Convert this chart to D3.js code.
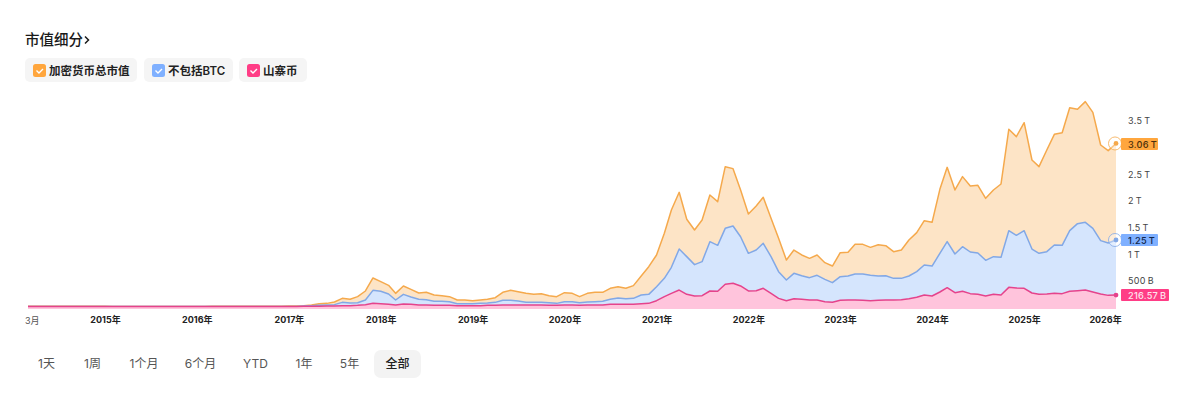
<!DOCTYPE html>
<html><head><meta charset="utf-8">
<script src="https://cdnjs.cloudflare.com/ajax/libs/d3/7.8.5/d3.min.js"></script>
<style>
html,body{margin:0;padding:0;background:#fff}
svg{display:block}
text{font-family:Inter,"Noto Sans CJK SC",sans-serif}
</style></head><body>
<svg id="c" width="1200" height="401"></svg>
<script>
// values in billions of USD, monthly from 2014-03 to 2026-01
const totalCap=[10,9,9,8,8,9,8,7,7,6,6,5,4,4,4,4,4,5,4,4,4,4,4,5,6,7,7,7,7,7,8,8,9,10,12,14,19,31,56,62,88,156,138,188,294,538,469,400,250,388,325,256,269,219,206,188,125,125,112,125,138,169,269,306,281,250,231,244,206,188,262,250,188,250,269,269,344,375,344,395,575,750,969,1375,1812,2144,1638,1438,1625,2094,1969,2625,2588,2188,1738,1888,2050,1656,1281,875,1062,969,906,969,825,762,1012,1019,1169,1169,1112,1162,1144,1031,1062,1250,1388,1612,1581,2200,2612,2188,2438,2262,2275,2031,2188,2300,3325,3188,3450,2750,2625,2938,3231,3262,3731,3700,3844,3644,3031,2925,3060];
const exBtc=[3,3,3,2,2,2,2,2,2,1,1,1,1,1,1,1,1,1,1,1,1,1,1,2,2,2,2,2,2,2,2,2,2,2,3,4,12,19,25,31,38,81,69,75,125,306,288,238,125,231,181,138,131,100,100,94,56,56,56,62,69,81,119,119,106,81,81,81,75,62,94,94,75,88,94,100,138,162,150,156,219,231,375,531,738,1081,938,788,844,1219,1150,1469,1512,1312,1000,1062,1188,938,656,500,625,581,544,588,512,450,562,575,612,612,588,575,581,531,531,575,656,781,762,1000,1219,988,1125,1025,1006,869,938,925,1425,1338,1425,1081,1000,1031,1156,1150,1425,1556,1581,1469,1238,1194,1250];
const altcoins=[2,2,2,1,1,1,1,1,1,1,1,1,1,1,1,1,1,1,1,1,1,1,1,1,1,1,1,1,1,1,1,1,1,2,2,3,6,6,9,12,12,19,19,25,38,62,56,44,31,50,44,31,31,25,25,25,19,19,19,19,25,25,31,31,31,31,31,31,25,25,31,31,25,31,31,31,44,44,44,47,56,62,112,188,250,312,231,200,206,294,288,419,438,388,294,300,344,250,156,112,150,138,125,125,94,81,119,125,125,119,112,119,125,125,131,150,175,219,200,275,356,262,288,244,231,200,231,219,362,350,344,256,231,238,250,244,288,300,312,275,238,212,216.57];
const legendNames=["加密货币总市值","不包括BTC","山寨币"];
const yTicks=[500,1000,1500,2000,2500,3500];
const yTickLabels=["500\u2009B","1\u2009T","1.5\u2009T","2\u2009T","2.5\u2009T","3.5\u2009T"];
const yearTicks=[2015,2016,2017,2018,2019,2020,2021,2022,2023,2024,2025,2026];
const rangeLabels=["1天","1周","1个月","6个月","YTD","1年","5年","全部"];
const tagLabels=["3.06\u2009T","1.25\u2009T","216.57\u2009B"];

const lineCols=["#f5a94c","#82a8e6","#e5438c"];
const fillCols=["#fde4c6","#d5e5fd","#ffc4dc"];
const tagCols=["#ffa63d","#7fb0ff","#ff3d86"];
const tagText=["#4a2f0c","#12264a","#ffe3ee"];

const svg=d3.select("#c");
const months=d3.utcMonth.range(new Date(Date.UTC(2014,2,1)),new Date(Date.UTC(2026,1,1)));
const x=d3.scaleUtc().domain([months[0],months[months.length-1]]).range([28,1116]);
const y=d3.scaleLinear().domain([0,3500]).range([306.67,120]);
const bottom=309;

[totalCap,exBtc,altcoins].forEach((s,k)=>{
  const area=d3.area().x((d,i)=>x(months[i])).y0(bottom).y1(d=>y(d));
  const line=d3.line().x((d,i)=>x(months[i])).y(d=>y(d));
  svg.append("path").attr("d",area(s)).attr("fill",fillCols[k]);
  svg.append("path").attr("d",line(s)).attr("fill","none").attr("stroke",lineCols[k]).attr("stroke-width",1.5).attr("stroke-linejoin","round");
});

// x axis
const xAxis=d3.axisBottom(x).tickSize(0).tickPadding(0)
  .tickValues(yearTicks.map(v=>new Date(Date.UTC(v,0,1))))
  .tickFormat(d=>d.getUTCFullYear()+"年");
const gx=svg.append("g").attr("transform","translate(0,317)").call(xAxis);
gx.select(".domain").remove();
gx.selectAll("text").attr("font-size",9).attr("font-weight",700).attr("fill","#222").attr("y",0).attr("dy","0.72em");
gx.selectAll(".tick").filter(d=>d.getUTCFullYear()===2026).select("text").attr("dx",-11);
svg.append("text").text("3月").attr("x",25).attr("y",323.5).attr("font-size",9).attr("fill","#555");

// y axis
const yAxis=d3.axisRight(y).tickSize(0).tickPadding(0).tickValues(yTicks)
  .tickFormat((d,i)=>yTickLabels[i]);
const gy=svg.append("g").attr("transform","translate(1128,0.8)").call(yAxis);
gy.select(".domain").remove();
gy.selectAll("text").attr("font-size",9).attr("fill","#444").attr("letter-spacing",0.3);

// end markers and value tags
const last=months[months.length-1];
[totalCap,exBtc,altcoins].forEach((s,k)=>{
  const v=s[s.length-1], py=y(v);
  if(k<2) svg.append("circle").attr("cx",x(last)-1).attr("cy",py).attr("r",6.5).attr("fill","#fff").attr("fill-opacity",.35).attr("stroke",lineCols[k]).attr("stroke-width",.8);
  svg.append("circle").attr("cx",x(last)).attr("cy",py).attr("r",2.4).attr("fill",lineCols[k]);
  const w=k<2?37:48;
  const ty=k==0?144:k==1?240:295;
  svg.append("rect").attr("x",1121).attr("y",ty-6).attr("width",w).attr("height",12).attr("rx",1).attr("fill",tagCols[k]);
  svg.append("text").text(tagLabels[k]).attr("x",1128).attr("y",ty+0.3).attr("dy","0.35em").attr("font-size",9.2).attr("font-weight",500).attr("fill",tagText[k]).attr("letter-spacing",0.25);
});

// title
svg.append("text").text("市值细分").attr("x",25).attr("y",44.5).attr("font-size",14.5).attr("font-weight",500).attr("fill","#1a1a1a");
svg.append("path").attr("d","M85 36.5 L88.5 40 L85 43.5").attr("fill","none").attr("stroke","#1a1a1a").attr("stroke-width",1.5);

// legend
const pills=[[25,112],[144,89],[239,68]];
legendNames.forEach((n,k)=>{
  const [px,pw]=pills[k];
  svg.append("rect").attr("x",px).attr("y",58).attr("width",pw).attr("height",24).attr("rx",5).attr("fill","#f5f5f5");
  svg.append("rect").attr("x",px+8).attr("y",64).attr("width",13).attr("height",13).attr("rx",2.5).attr("fill",tagCols[k]);
  svg.append("path").attr("d",`M${px+11.5} 70.5 l2.5 2.5 l4 -4`).attr("fill","none").attr("stroke","#fff").attr("stroke-width",1.4);
  svg.append("text").text(n).attr("x",px+24).attr("y",75).attr("font-size",11.5).attr("font-weight",600).attr("fill","#222");
});

// range buttons
const rangeX=[46.5,92.5,144,200.5,255.5,304,349.5,397.5];
svg.append("rect").attr("x",374).attr("y",350).attr("width",47).attr("height",28).attr("rx",7).attr("fill","#f3f3f3");
rangeLabels.forEach((t,i)=>{
  svg.append("text").text(t).attr("x",rangeX[i]).attr("y",364).attr("dy","0.36em").attr("text-anchor","middle")
    .attr("font-size",12).attr("font-weight",i==7?500:400).attr("fill",i==7?"#222":"#555");
});
</script>
</body></html>
